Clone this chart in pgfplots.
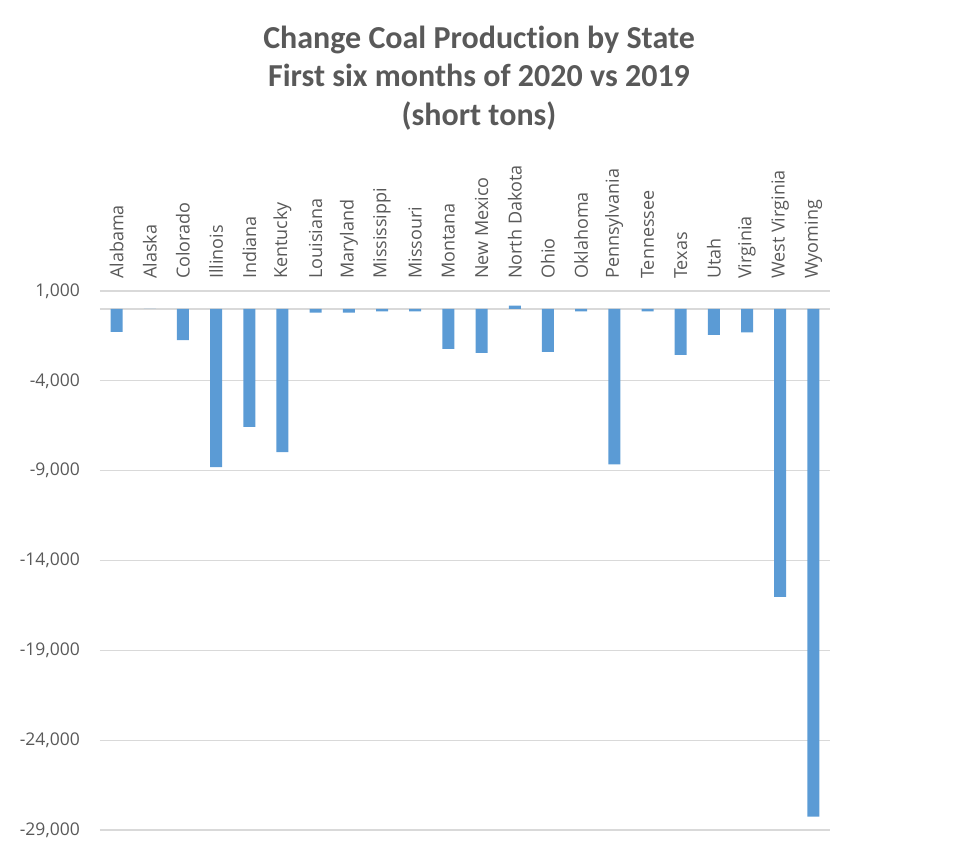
\documentclass[border=0pt]{standalone}
\usepackage{pgfplots}
\pgfplotsset{compat=1.18}
\usepackage{fontspec}
\setmainfont{Open Sans}
\newfontfamily\titlefont[Ligatures=NoCommon]{Carlito}
\definecolor{barblue}{HTML}{5B9BD5}
\definecolor{gridgray}{HTML}{D9D9D9}
\definecolor{txtgray}{HTML}{595959}

\begin{document}
\begin{tikzpicture}
\path[use as bounding box] (-100pt,-19pt) rectangle (859pt,830pt);
\begin{axis}[
    at={(0pt,0pt)}, anchor=south west,
    scale only axis,
    width=730pt, height=539pt,
    xmin=-0.5, xmax=21.5,
    ymin=-29000, ymax=1000,
    ybar, bar width=12pt,
    xtick={0,...,21},
    xticklabels={Alabama,Alaska,Colorado,Illinois,Indiana,Kentucky,Louisiana,Maryland,Mississippi,Missouri,Montana,New Mexico,North Dakota,Ohio,Oklahoma,Pennsylvania,Tennessee,Texas,Utah,Virginia,West Virginia,Wyoming},
    xticklabel pos=upper,
    xticklabel shift=12pt,
    x tick label style={rotate=90, anchor=west, inner sep=0pt, font=\fontsize{18}{21}\selectfont, text=txtgray},
    scaled y ticks=false,
    ytick={-29000,-24000,-19000,-14000,-9000,-4000,1000},
    yticklabels={{-29,000},{-24,000},{-19,000},{-14,000},{-9,000},{-4,000},{1,000}},
    yticklabel shift=20pt,
    y tick label style={anchor=east, inner sep=0pt, font=\fontsize{17.5}{20}\selectfont, text=txtgray},
    ymajorgrids,
    grid style={gridgray, line width=1.2pt},
    extra y ticks={0},
    extra y tick labels={},
    extra y tick style={grid style={gridgray, line width=1.2pt}},
    axis line style={draw=none},
    major tick length=0pt,
]
\addplot[fill=barblue, draw=none] coordinates {
(0,-1280) (1,0) (2,-1740) (3,-8800) (4,-6560) (5,-7970)
(6,-200) (7,-200) (8,-130) (9,-130) (10,-2225) (11,-2450)
(12,185) (13,-2390) (14,-130) (15,-8650) (16,-130) (17,-2560)
(18,-1445) (19,-1300) (20,-16030) (21,-28250)
};
\end{axis}
\begin{scope}[every node/.style={anchor=base, inner sep=0pt, text=txtgray, font=\titlefont\bfseries\fontsize{32}{36}\selectfont}]
\node at (479pt-100pt,781pt) {Change Coal Production by State};
\node at (479pt-100pt,743pt) {First six months of 2020 vs 2019};
\node at (479pt-100pt,704pt) {(short tons)};
\end{scope}
\end{tikzpicture}
\end{document}
